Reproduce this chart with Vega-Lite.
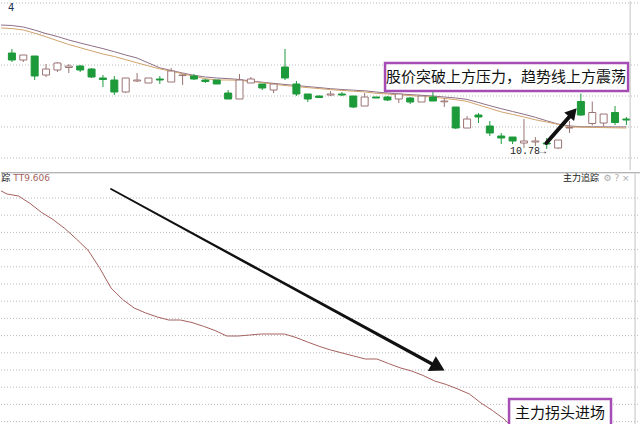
{
  "$schema": "https://vega.github.io/schema/vega-lite/v6.json",
  "background": "white",
  "padding": 0,
  "spacing": 0,
  "config": {
    "view": {"stroke": null},
    "font": "Noto Sans CJK SC"
  },
  "datasets": {
    "candles": [
      {"i": 0, "kind": "down", "open": 12.70, "close": 12.56, "high": 12.78, "low": 12.52},
      {"i": 1, "kind": "up", "open": 12.56, "close": 12.66, "high": 12.66, "low": 12.52},
      {"i": 2, "kind": "down", "open": 12.64, "close": 12.24, "high": 12.64, "low": 12.16},
      {"i": 3, "kind": "up", "open": 12.26, "close": 12.38, "high": 12.48, "low": 12.22},
      {"i": 4, "kind": "up", "open": 12.36, "close": 12.50, "high": 12.52, "low": 12.32},
      {"i": 5, "kind": "up", "open": 12.41, "close": 12.44, "high": 12.48, "low": 12.30},
      {"i": 6, "kind": "down", "open": 12.44, "close": 12.36, "high": 12.46, "low": 12.32},
      {"i": 7, "kind": "down", "open": 12.38, "close": 12.22, "high": 12.40, "low": 12.20},
      {"i": 8, "kind": "down", "open": 12.20, "close": 12.17, "high": 12.26, "low": 12.02},
      {"i": 9, "kind": "down", "open": 12.16, "close": 11.92, "high": 12.24, "low": 11.86},
      {"i": 10, "kind": "up", "open": 11.92, "close": 12.20, "high": 12.20, "low": 11.90},
      {"i": 11, "kind": "up", "open": 12.14, "close": 12.16, "high": 12.30, "low": 12.12},
      {"i": 12, "kind": "up", "open": 12.10, "close": 12.20, "high": 12.20, "low": 12.10},
      {"i": 13, "kind": "down", "open": 12.18, "close": 12.16, "high": 12.24, "low": 12.08},
      {"i": 14, "kind": "up", "open": 12.12, "close": 12.34, "high": 12.40, "low": 12.12},
      {"i": 15, "kind": "up", "open": 12.248, "close": 12.26, "high": 12.28, "low": 12.06},
      {"i": 16, "kind": "down", "open": 12.24, "close": 12.18, "high": 12.28, "low": 12.16},
      {"i": 17, "kind": "down", "open": 12.16, "close": 12.13, "high": 12.18, "low": 12.10},
      {"i": 18, "kind": "down", "open": 12.16, "close": 12.08, "high": 12.16, "low": 12.08},
      {"i": 19, "kind": "down", "open": 11.90, "close": 11.78, "high": 11.96, "low": 11.78},
      {"i": 20, "kind": "up", "open": 11.78, "close": 12.16, "high": 12.28, "low": 11.78},
      {"i": 21, "kind": "up", "open": 12.10, "close": 12.18, "high": 12.22, "low": 12.10},
      {"i": 22, "kind": "down", "open": 12.08, "close": 12.00, "high": 12.08, "low": 11.96},
      {"i": 23, "kind": "up", "open": 11.96, "close": 12.08, "high": 12.10, "low": 11.90},
      {"i": 24, "kind": "down", "open": 12.42, "close": 12.20, "high": 12.78, "low": 12.16},
      {"i": 25, "kind": "down", "open": 12.08, "close": 11.88, "high": 12.14, "low": 11.84},
      {"i": 26, "kind": "down", "open": 11.88, "close": 11.78, "high": 11.88, "low": 11.72},
      {"i": 27, "kind": "down", "open": 11.84, "close": 11.81, "high": 11.85, "low": 11.80},
      {"i": 28, "kind": "up", "open": 11.86, "close": 11.88, "high": 11.94, "low": 11.84},
      {"i": 29, "kind": "down", "open": 11.88, "close": 11.86, "high": 11.92, "low": 11.84},
      {"i": 30, "kind": "down", "open": 11.84, "close": 11.62, "high": 11.84, "low": 11.60},
      {"i": 31, "kind": "up", "open": 11.64, "close": 11.82, "high": 11.90, "low": 11.64},
      {"i": 32, "kind": "down", "open": 11.82, "close": 11.80, "high": 11.82, "low": 11.80},
      {"i": 33, "kind": "down", "open": 11.82, "close": 11.76, "high": 11.84, "low": 11.74},
      {"i": 34, "kind": "up", "open": 11.78, "close": 11.88, "high": 11.88, "low": 11.70},
      {"i": 35, "kind": "down", "open": 11.80, "close": 11.72, "high": 11.82, "low": 11.68},
      {"i": 36, "kind": "up", "open": 11.72, "close": 11.84, "high": 11.84, "low": 11.72},
      {"i": 37, "kind": "down", "open": 11.82, "close": 11.74, "high": 11.98, "low": 11.74},
      {"i": 38, "kind": "up", "open": 11.724, "close": 11.74, "high": 11.80, "low": 11.62},
      {"i": 39, "kind": "down", "open": 11.62, "close": 11.20, "high": 11.62, "low": 11.18},
      {"i": 40, "kind": "up", "open": 11.20, "close": 11.38, "high": 11.44, "low": 11.20},
      {"i": 41, "kind": "down", "open": 11.46, "close": 11.42, "high": 11.50, "low": 11.30},
      {"i": 42, "kind": "down", "open": 11.24, "close": 11.10, "high": 11.34, "low": 11.04},
      {"i": 43, "kind": "down", "open": 11.04, "close": 11.00, "high": 11.10, "low": 10.88},
      {"i": 44, "kind": "down", "open": 11.02, "close": 10.94, "high": 11.02, "low": 10.88},
      {"i": 45, "kind": "up", "open": 10.90, "close": 10.94, "high": 11.38, "low": 10.80},
      {"i": 46, "kind": "up", "open": 10.92, "close": 10.94, "high": 11.02, "low": 10.84},
      {"i": 47, "kind": "down", "open": 10.90, "close": 10.88, "high": 11.00, "low": 10.78},
      {"i": 48, "kind": "up", "open": 10.80, "close": 10.96, "high": 10.96, "low": 10.78},
      {"i": 49, "kind": "up", "open": 11.20, "close": 11.21, "high": 11.34, "low": 11.10},
      {"i": 50, "kind": "down", "open": 11.73, "close": 11.46, "high": 11.89, "low": 11.44},
      {"i": 51, "kind": "up", "open": 11.29, "close": 11.51, "high": 11.73, "low": 11.25},
      {"i": 52, "kind": "up", "open": 11.30, "close": 11.48, "high": 11.48, "low": 11.23},
      {"i": 53, "kind": "down", "open": 11.51, "close": 11.31, "high": 11.64, "low": 11.26},
      {"i": 54, "kind": "down", "open": 11.38, "close": 11.36, "high": 11.42, "low": 11.26}
    ],
    "ma": [
      {"i": -1, "a": 13.26, "b": 13.20},
      {"i": 0, "a": 13.25, "b": 13.19},
      {"i": 1, "a": 13.22, "b": 13.16},
      {"i": 2, "a": 13.16, "b": 13.096},
      {"i": 3, "a": 13.088, "b": 13.024},
      {"i": 4, "a": 13.03, "b": 12.946},
      {"i": 5, "a": 12.96, "b": 12.87},
      {"i": 6, "a": 12.90, "b": 12.806},
      {"i": 7, "a": 12.844, "b": 12.742},
      {"i": 8, "a": 12.788, "b": 12.68},
      {"i": 9, "a": 12.726, "b": 12.63},
      {"i": 10, "a": 12.66, "b": 12.566},
      {"i": 11, "a": 12.60, "b": 12.504},
      {"i": 12, "a": 12.50, "b": 12.442},
      {"i": 13, "a": 12.404, "b": 12.382},
      {"i": 14, "a": 12.35, "b": 12.336},
      {"i": 15, "a": 12.30, "b": 12.284},
      {"i": 16, "a": 12.254, "b": 12.234},
      {"i": 17, "a": 12.22, "b": 12.186},
      {"i": 18, "a": 12.20, "b": 12.16},
      {"i": 19, "a": 12.188, "b": 12.16},
      {"i": 20, "a": 12.17, "b": 12.154},
      {"i": 21, "a": 12.14, "b": 12.13},
      {"i": 22, "a": 12.116, "b": 12.106},
      {"i": 23, "a": 12.092, "b": 12.076},
      {"i": 24, "a": 12.07, "b": 12.05},
      {"i": 25, "a": 12.05, "b": 12.03},
      {"i": 26, "a": 12.028, "b": 12.008},
      {"i": 27, "a": 12.008, "b": 11.988},
      {"i": 28, "a": 11.986, "b": 11.968},
      {"i": 29, "a": 11.97, "b": 11.952},
      {"i": 30, "a": 11.956, "b": 11.936},
      {"i": 31, "a": 11.944, "b": 11.922},
      {"i": 32, "a": 11.92, "b": 11.894},
      {"i": 33, "a": 11.90, "b": 11.88},
      {"i": 34, "a": 11.88, "b": 11.862},
      {"i": 35, "a": 11.868, "b": 11.85},
      {"i": 36, "a": 11.854, "b": 11.832},
      {"i": 37, "a": 11.84, "b": 11.82},
      {"i": 38, "a": 11.82, "b": 11.792},
      {"i": 39, "a": 11.80, "b": 11.766},
      {"i": 40, "a": 11.772, "b": 11.732},
      {"i": 41, "a": 11.71, "b": 11.66},
      {"i": 42, "a": 11.646, "b": 11.592},
      {"i": 43, "a": 11.586, "b": 11.522},
      {"i": 44, "a": 11.53, "b": 11.472},
      {"i": 45, "a": 11.474, "b": 11.42},
      {"i": 46, "a": 11.414, "b": 11.364},
      {"i": 47, "a": 11.344, "b": 11.32},
      {"i": 48, "a": 11.278, "b": 11.274},
      {"i": 49, "a": 11.242, "b": 11.222},
      {"i": 50, "a": 11.225, "b": 11.216},
      {"i": 51, "a": 11.224, "b": 11.212},
      {"i": 52, "a": 11.223, "b": 11.208},
      {"i": 53, "a": 11.222, "b": 11.204},
      {"i": 54, "a": 11.222, "b": 11.20}
    ],
    "flow": [
      {"i": -1, "v": 490}, {"i": 0, "v": 478}, {"i": 1, "v": 474}, {"i": 2, "v": 459},
      {"i": 3, "v": 441}, {"i": 4, "v": 426.6}, {"i": 5, "v": 409}, {"i": 6, "v": 388},
      {"i": 7, "v": 366}, {"i": 8, "v": 330.6}, {"i": 9, "v": 290}, {"i": 10, "v": 267},
      {"i": 11, "v": 250}, {"i": 12, "v": 240}, {"i": 13, "v": 232}, {"i": 14, "v": 226},
      {"i": 15, "v": 226}, {"i": 16, "v": 221}, {"i": 17, "v": 213.4}, {"i": 18, "v": 205},
      {"i": 19, "v": 194}, {"i": 20, "v": 194}, {"i": 21, "v": 196}, {"i": 22, "v": 198},
      {"i": 23, "v": 198}, {"i": 24, "v": 198}, {"i": 25, "v": 191}, {"i": 26, "v": 182},
      {"i": 27, "v": 173.4}, {"i": 28, "v": 166}, {"i": 29, "v": 160}, {"i": 30, "v": 154},
      {"i": 31, "v": 148}, {"i": 32, "v": 148}, {"i": 33, "v": 139}, {"i": 34, "v": 130.4},
      {"i": 35, "v": 124}, {"i": 36, "v": 115}, {"i": 37, "v": 104}, {"i": 38, "v": 97},
      {"i": 39, "v": 88}, {"i": 40, "v": 78}, {"i": 41, "v": 60}, {"i": 42, "v": 45},
      {"i": 43, "v": 28}, {"i": 44, "v": 6}, {"i": 45, "v": -12}
    ],
    "gridTop": [{"p": 13.70}, {"p": 13.08}, {"p": 12.46}, {"p": 11.84}, {"p": 11.22}, {"p": 10.60}],
    "gridBot": [{"v": 470}, {"v": 435.6}, {"v": 401.2}, {"v": 366.8}, {"v": 332.4}, {"v": 298}, {"v": 263.6}, {"v": 229.2}, {"v": 194.8}, {"v": 160.4}, {"v": 126}, {"v": 91.6}, {"v": 57.2}, {"v": 22.8}],
    "arrowTop": [{"i": 46.97, "p": 10.90}, {"i": 49.05, "p": 11.44}],
    "headTop": [{"i": 49.30, "p": 11.51}],
    "arrowBot": [{"i": 9.0, "v": 488}, {"i": 36.7, "v": 139}],
    "headBot": [{"i": 37.3, "v": 132}],
    "boxTop": [{"i": 32.79, "i2": 54.15, "p": 12.50, "p2": 11.94}],
    "boxBot": [{"i": 43.43, "i2": 52.25, "v": 68, "v2": 14}],
    "edge": [{"i": 54.33}],
    "sep": [{"v": 520.5}],
    "labelsTop": [
      {"k": "note", "t": "股价突破上方压力，趋势线上方震荡", "i": 43.43, "p": 12.22},
      {"k": "low", "t": "10.78→", "i": 43.77, "p": 10.74},
      {"k": "corner", "t": "4", "i": -0.35, "p": 13.60}
    ],
    "labelsBot": [
      {"k": "note", "t": "主力拐头进场", "i": 47.84, "v": 40},
      {"k": "val", "t": "TT9.606", "i": 0.55, "v": 510},
      {"k": "title", "t": "主力追踪", "i": 48.1, "v": 510},
      {"k": "title", "t": "踪", "i": -0.5, "v": 510},
      {"k": "icons", "t": "⚙ ? ×", "i": 51.6, "v": 510}
    ]
  },
  "vconcat": [
    {
      "width": 640,
      "height": 169,
      "layer": [
        {
          "data": {"name": "gridTop"},
          "mark": {"type": "rule", "color": "#bbbbbb", "strokeWidth": 1, "strokeDash": [1, 2]},
          "encoding": {
            "y": {"field": "p", "type": "quantitative", "scale": {"domain": [10.36, 13.74], "nice": false, "zero": false}, "axis": null}
          }
        },
        {
          "data": {"name": "ma"},
          "mark": {"type": "line", "color": "#8e7088", "strokeWidth": 1, "clip": true},
          "encoding": {
            "x": {"field": "i", "type": "quantitative", "scale": {"domain": [-0.519, 54.844], "nice": false, "zero": false}, "axis": null},
            "y": {"field": "a", "type": "quantitative", "axis": null}
          }
        },
        {
          "data": {"name": "ma"},
          "mark": {"type": "line", "color": "#d1a36c", "strokeWidth": 1, "clip": true},
          "encoding": {"x": {"field": "i", "type": "quantitative", "axis": null}, "y": {"field": "b", "type": "quantitative", "axis": null}}
        },
        {
          "data": {"name": "candles"},
          "mark": {"type": "rule", "strokeWidth": 1},
          "encoding": {
            "x": {"field": "i", "type": "quantitative", "axis": null},
            "y": {"field": "low", "type": "quantitative", "axis": null},
            "y2": {"field": "high"},
            "stroke": {"field": "kind", "type": "nominal", "scale": {"domain": ["down", "up"], "range": ["#1d9a3a", "#9c7474"]}, "legend": null}
          }
        },
        {
          "data": {"name": "candles"},
          "mark": {"type": "bar", "width": 7, "strokeWidth": 1},
          "encoding": {
            "x": {"field": "i", "type": "quantitative", "axis": null},
            "y": {"field": "open", "type": "quantitative", "axis": null},
            "y2": {"field": "close"},
            "fill": {"field": "kind", "type": "nominal", "scale": {"domain": ["down", "up"], "range": ["#1d9a3a", "#ffffff"]}, "legend": null},
            "stroke": {"field": "kind", "type": "nominal", "legend": null}
          }
        },
        {
          "data": {"name": "boxTop"},
          "mark": {"type": "rect", "fill": "white", "stroke": "#a54db5", "strokeWidth": 2.5},
          "encoding": {
            "x": {"field": "i", "type": "quantitative", "axis": null},
            "x2": {"field": "i2"},
            "y": {"field": "p", "type": "quantitative", "axis": null},
            "y2": {"field": "p2"}
          }
        },
        {
          "data": {"name": "labelsTop"},
          "transform": [{"filter": "datum.k === 'note'"}],
          "mark": {"type": "text", "font": "Noto Sans CJK SC", "fontSize": 15, "color": "#111111", "align": "center", "baseline": "middle"},
          "encoding": {"x": {"field": "i", "type": "quantitative", "axis": null}, "y": {"field": "p", "type": "quantitative", "axis": null}, "text": {"field": "t"}}
        },
        {
          "data": {"name": "labelsTop"},
          "transform": [{"filter": "datum.k === 'low'"}],
          "mark": {"type": "text", "font": "Liberation Mono", "fontSize": 10, "color": "#222222", "align": "left", "baseline": "middle"},
          "encoding": {"x": {"field": "i", "type": "quantitative", "axis": null}, "y": {"field": "p", "type": "quantitative", "axis": null}, "text": {"field": "t"}}
        },
        {
          "data": {"name": "labelsTop"},
          "transform": [{"filter": "datum.k === 'corner'"}],
          "mark": {"type": "text", "font": "DejaVu Sans", "fontSize": 10, "color": "#223355", "align": "left", "baseline": "middle"},
          "encoding": {"x": {"field": "i", "type": "quantitative", "axis": null}, "y": {"field": "p", "type": "quantitative", "axis": null}, "text": {"field": "t"}}
        },
        {
          "data": {"name": "arrowTop"},
          "mark": {"type": "trail", "color": "#111111"},
          "encoding": {
            "x": {"field": "i", "type": "quantitative", "axis": null},
            "y": {"field": "p", "type": "quantitative", "axis": null},
            "size": {"field": "i", "type": "quantitative", "scale": {"zero": false, "range": [1.8, 4]}, "legend": null}
          }
        },
        {
          "data": {"name": "headTop"},
          "mark": {"type": "point", "shape": "triangle-right", "filled": true, "color": "#111111", "opacity": 1, "size": 170, "angle": -48.6},
          "encoding": {"x": {"field": "i", "type": "quantitative", "axis": null}, "y": {"field": "p", "type": "quantitative", "axis": null}}
        },
        {
          "data": {"name": "edge"},
          "mark": {"type": "rule", "color": "#c4c4c4", "strokeWidth": 1},
          "encoding": {"x": {"field": "i", "type": "quantitative", "axis": null}}
        }
      ]
    },
    {
      "width": 640,
      "height": 255,
      "layer": [
        {
          "data": {"name": "gridBot"},
          "mark": {"type": "rule", "color": "#bbbbbb", "strokeWidth": 1, "strokeDash": [1, 2]},
          "encoding": {
            "y": {"field": "v", "type": "quantitative", "scale": {"domain": [12, 522], "nice": false, "zero": false}, "axis": null}
          }
        },
        {
          "data": {"name": "flow"},
          "mark": {"type": "line", "color": "#a5625e", "strokeWidth": 1, "clip": true},
          "encoding": {
            "x": {"field": "i", "type": "quantitative", "scale": {"domain": [-0.519, 54.844], "nice": false, "zero": false}, "axis": null},
            "y": {"field": "v", "type": "quantitative", "axis": null}
          }
        },
        {
          "data": {"name": "sep"},
          "mark": {"type": "rule", "color": "#9a9a9a", "strokeWidth": 1},
          "encoding": {"y": {"field": "v", "type": "quantitative", "axis": null}}
        },
        {
          "data": {"name": "edge"},
          "mark": {"type": "rule", "color": "#c4c4c4", "strokeWidth": 1},
          "encoding": {"x": {"field": "i", "type": "quantitative", "axis": null}}
        },
        {
          "data": {"name": "arrowBot"},
          "mark": {"type": "trail", "color": "#111111"},
          "encoding": {
            "x": {"field": "i", "type": "quantitative", "axis": null},
            "y": {"field": "v", "type": "quantitative", "axis": null},
            "size": {"field": "i", "type": "quantitative", "scale": {"zero": false, "range": [2.5, 7]}, "legend": null}
          }
        },
        {
          "data": {"name": "headBot"},
          "mark": {"type": "point", "shape": "triangle-right", "filled": true, "color": "#111111", "opacity": 1, "size": 280, "angle": 28.6},
          "encoding": {"x": {"field": "i", "type": "quantitative", "axis": null}, "y": {"field": "v", "type": "quantitative", "axis": null}}
        },
        {
          "data": {"name": "boxBot"},
          "mark": {"type": "rect", "fill": "white", "stroke": "#a54db5", "strokeWidth": 2.5},
          "encoding": {
            "x": {"field": "i", "type": "quantitative", "axis": null},
            "x2": {"field": "i2"},
            "y": {"field": "v", "type": "quantitative", "axis": null},
            "y2": {"field": "v2"}
          }
        },
        {
          "data": {"name": "labelsBot"},
          "transform": [{"filter": "datum.k === 'note'"}],
          "mark": {"type": "text", "font": "Noto Sans CJK SC", "fontSize": 15, "color": "#111111", "align": "center", "baseline": "middle"},
          "encoding": {"x": {"field": "i", "type": "quantitative", "axis": null}, "y": {"field": "v", "type": "quantitative", "axis": null}, "text": {"field": "t"}}
        },
        {
          "data": {"name": "labelsBot"},
          "transform": [{"filter": "datum.k === 'val'"}],
          "mark": {"type": "text", "font": "DejaVu Sans", "fontSize": 9, "color": "#a5625e", "align": "left", "baseline": "middle"},
          "encoding": {"x": {"field": "i", "type": "quantitative", "axis": null}, "y": {"field": "v", "type": "quantitative", "axis": null}, "text": {"field": "t"}}
        },
        {
          "data": {"name": "labelsBot"},
          "transform": [{"filter": "datum.k === 'title'"}],
          "mark": {"type": "text", "font": "Noto Sans CJK SC", "fontSize": 9, "color": "#222222", "align": "left", "baseline": "middle"},
          "encoding": {"x": {"field": "i", "type": "quantitative", "axis": null}, "y": {"field": "v", "type": "quantitative", "axis": null}, "text": {"field": "t"}}
        },
        {
          "data": {"name": "labelsBot"},
          "transform": [{"filter": "datum.k === 'icons'"}],
          "mark": {"type": "text", "font": "DejaVu Sans", "fontSize": 9, "color": "#aaaaaa", "align": "left", "baseline": "middle"},
          "encoding": {"x": {"field": "i", "type": "quantitative", "axis": null}, "y": {"field": "v", "type": "quantitative", "axis": null}, "text": {"field": "t"}}
        }
      ]
    }
  ]
}
